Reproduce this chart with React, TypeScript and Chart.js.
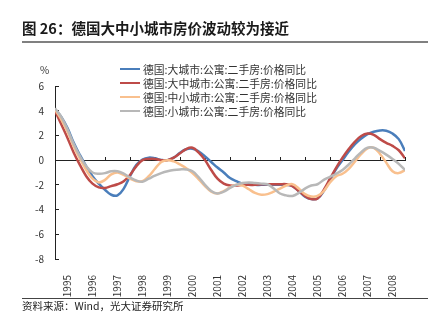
import React, { useEffect, useRef } from "react";
import { Chart, registerables } from "chart.js";

Chart.register(...registerables);

// Year tick labels (category of the x axis)
const years = [
  "1995", "1996", "1997", "1998", "1999", "2000", "2001",
  "2002", "2003", "2004", "2005", "2006", "2007", "2008",
];

// Quarterly time points (in years) from start of 1995 to end of 2008
const quarterTimes = Array.from({ length: 57 }, (_, i) => 1995 + i / 4);

const seriesNames = [
  "德国:大城市:公寓:二手房:价格同比",
  "德国:大中城市:公寓:二手房:价格同比",
  "德国:中小城市:公寓:二手房:价格同比",
  "德国:小城市:公寓:二手房:价格同比",
];

const seriesColors = ["#4a7ebb", "#be4b48", "#f9c08e", "#b8b8b8"];

const bigCity = [
  4.1, 3.5, 2.6, 1.4, 0.4, -0.5, -1.3, -1.9, -2.4, -2.8, -2.85, -2.3, -1.3, -0.4,
  0.05, 0.2, 0.15, 0.02, 0.0, 0.2, 0.6, 0.88, 0.92, 0.7, 0.3, -0.15, -0.6, -1.0,
  -1.45, -1.7, -1.9, -1.95, -2.0, -2.0, -2.0, -2.0, -2.0, -2.0, -2.1, -2.5, -2.95,
  -3.15, -3.1, -2.5, -1.6, -0.7, 0.0, 0.7, 1.3, 1.75, 2.1, 2.3, 2.4, 2.38, 2.15,
  1.7, 0.75,
];

const bigMidCity = [
  4.0, 2.9, 1.8, 0.6, -0.4, -1.3, -1.9, -2.2, -2.25, -2.1, -1.95, -1.7, -1.2, -0.5,
  0.0, 0.1, 0.1, 0.0, 0.0, 0.2, 0.55, 0.9, 1.0, 0.6, 0.0, -0.8, -1.5, -1.9, -2.05,
  -2.05, -2.0, -2.0, -2.0, -1.95, -1.95, -1.95, -1.95, -1.95, -2.1, -2.5, -2.9,
  -3.15, -3.1, -2.4, -1.5, -0.6, 0.2, 0.9, 1.5, 1.95, 2.15, 2.05, 1.7, 1.4, 1.15,
  0.8, 0.15,
];

const midSmallCity = [
  4.1, 3.3, 2.3, 1.1, 0.1, -0.8, -1.5, -1.8, -1.6, -1.15, -1.0, -1.2, -1.5, -1.7,
  -1.7, -1.3, -0.7, -0.15, 0.0, -0.1, -0.35, -0.65, -1.05, -1.55, -2.1, -2.55,
  -2.7, -2.5, -2.2, -2.0, -2.05, -2.35, -2.65, -2.8, -2.75, -2.55, -2.3, -2.05,
  -1.95, -2.3, -2.75, -2.95, -2.9, -2.5, -1.8, -1.3, -1.1, -0.7, -0.1, 0.5, 0.95,
  1.0, 0.5, -0.2, -0.9, -1.05, -0.8,
];

const smallCity = [
  4.2, 3.5, 2.5, 1.3, 0.3, -0.5, -1.0, -1.1, -1.05, -0.9, -0.9, -1.1, -1.4, -1.65,
  -1.75, -1.5, -1.25, -1.05, -0.9, -0.8, -0.75, -0.75, -0.9, -1.4, -2.0, -2.5,
  -2.7, -2.55, -2.25, -2.0, -1.85, -1.8, -1.85, -1.9, -1.95, -2.3, -2.7, -2.85,
  -2.9, -2.65, -2.3, -2.05, -1.95, -1.6, -1.35, -1.1, -0.8, -0.35, 0.15, 0.65,
  1.0, 1.0, 0.75, 0.45, 0.1, -0.3, -0.8,
];

const seriesValues = [bigCity, bigMidCity, midSmallCity, smallCity];

const FONT = '"Noto Sans CJK SC", "Noto Sans", sans-serif';

export default function App() {
  const ref = useRef<HTMLCanvasElement>(null);

  useEffect(() => {
    if (!ref.current) return;
    Chart.defaults.font.family = FONT;
    const toPoints = (vals: number[]) =>
      vals.map((v, i) => ({ x: quarterTimes[i], y: v }));

    const chart = new Chart(ref.current, {
      type: "line",
      data: {
        datasets: seriesValues.map((vals, i) => ({
          label: seriesNames[i],
          data: toPoints(vals),
          borderColor: seriesColors[i],
          backgroundColor: seriesColors[i],
          borderWidth: 2.5,
          pointRadius: 0,
          tension: 0.4,
          fill: false,
          order: 3 - i,
        })),
      },
      options: {
        animation: false,
        responsive: false,
        layout: { padding: { left: 0, right: 31, top: 86, bottom: 30 } },
        plugins: {
          legend: { display: false },
          tooltip: { enabled: false },
        },
        scales: {
          x: {
            type: "linear",
            position: "bottom",
            min: 1995,
            max: 2009,
            afterBuildTicks: (s: any) => {
              s.ticks = years.map((y) => ({ value: Number(y) + 0.5 }));
            },
            afterFit: (s: any) => {
              s.height = 40;
            },
            ticks: {
              autoSkip: false,
              minRotation: 90,
              maxRotation: 90,
              padding: 8,
              color: "#333",
              font: { size: 10 },
              callback: (_v: any, i: number) => years[i],
            },
            grid: { display: false },
            border: { display: false },
          },
          x2: {
            type: "linear",
            position: { y: 0 } as any,
            min: 1995,
            max: 2009,
            ticks: { display: false, stepSize: 1 },
            grid: { drawOnChartArea: false, tickLength: -4, color: "#222" },
            border: { display: true, color: "#222", width: 1 },
          },
          y: {
            type: "linear",
            min: -8,
            max: 6,
            afterFit: (s: any) => {
              s.width = 55;
            },
            ticks: { stepSize: 2, padding: 15, color: "#333", font: { size: 10 } },
            grid: { drawOnChartArea: false, tickLength: -4, color: "#222" },
            border: { display: true, color: "#222", width: 1 },
          },
        },
      },
    });
    return () => chart.destroy();
  }, []);

  return (
    <div
      style={{
        position: "absolute",
        left: 0,
        top: 0,
        width: 436,
        height: 329,
        background: "#fff",
        fontFamily: FONT,
        color: "#222",
      }}
    >
      <canvas
        ref={ref}
        width={436}
        height={329}
        style={{ position: "absolute", left: 0, top: 0, display: "block" }}
      />
      <div
        style={{
          position: "absolute",
          left: 22,
          top: 19,
          fontSize: 14.5,
          lineHeight: "18px",
          fontWeight: 700,
          color: "#1a1a1a",
          whiteSpace: "nowrap",
        }}
      >
        图 26：德国大中小城市房价波动较为接近
      </div>
      <div
        style={{
          position: "absolute",
          left: 22,
          top: 41,
          width: 406,
          height: 2,
          background: "#808080",
        }}
      />
      <div
        style={{
          position: "absolute",
          left: 40,
          top: 63,
          fontSize: 10,
          lineHeight: "14px",
          color: "#333",
        }}
      >
        %
      </div>
      <div
        style={{
          position: "absolute",
          left: 120,
          top: 62,
          fontSize: 10.8,
          lineHeight: "14px",
          color: "#333",
        }}
      >
        {seriesNames.map((name, i) => (
          <div
            key={name}
            style={{ display: "flex", alignItems: "center", height: 14, whiteSpace: "nowrap" }}
          >
            <span
              style={{
                display: "inline-block",
                width: 20,
                height: 2.5,
                background: seriesColors[i],
                marginRight: 3,
              }}
            />
            <span>{name}</span>
          </div>
        ))}
      </div>
      <div
        style={{
          position: "absolute",
          left: 22,
          top: 298,
          width: 406,
          height: 1,
          background: "#444",
        }}
      />
      <div
        style={{
          position: "absolute",
          left: 22,
          top: 299,
          fontSize: 10.5,
          lineHeight: "14px",
          color: "#222",
          whiteSpace: "nowrap",
        }}
      >
        资料来源：Wind，光大证券研究所
      </div>
    </div>
  );
}
